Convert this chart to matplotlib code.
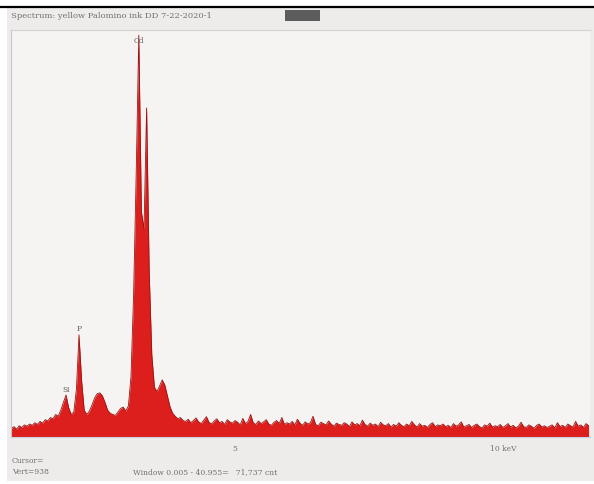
import numpy as np
import matplotlib
matplotlib.use("Agg")
import matplotlib.pyplot as plt
from matplotlib.patches import Rectangle

# EDS spectrum, channels every 0.05 keV starting at 0.70 keV
start_kev = 0.70
step_kev = 0.05

# 0.70 - 4.00 keV (Si, P, S, Cd L lines, Ca)
peak_counts = [20, 24, 18, 26, 22, 28, 25, 30, 27, 33,
               29, 36, 32, 40, 37, 45, 42, 52, 48, 62,
               80, 97, 68, 52, 58, 110, 236, 130, 62, 52,
               60, 74, 90, 100, 102, 95, 80, 62, 55, 52,
               50, 58, 66, 69, 60, 72, 140, 330, 610, 928,
               520, 480, 760, 380, 190, 115, 105, 118, 132, 120,
               95, 70, 55, 48, 42, 45, 38]

# 4.05 - 11.80 keV background
tail_counts = [36, 41, 33, 38, 44, 35, 31, 39, 47, 34, 30, 37, 42, 33, 36, 29, 40, 35, 32, 38,
               34, 28, 43, 31, 36, 52, 33, 29, 37, 31, 35, 40, 30, 27, 34, 38, 31, 45, 29, 33,
               30, 36, 28, 41, 32, 27, 35, 30, 33, 48, 29, 26, 34, 31, 28, 37, 30, 25, 32, 29,
               27, 33, 30, 24, 35, 28, 31, 26, 39, 29, 25, 32, 27, 30, 24, 34, 28, 26, 31, 23,
               29, 25, 33, 27, 24, 30, 26, 36, 28, 23, 31, 25, 27, 22, 29, 33, 24, 28, 26, 30,
               24, 27, 22, 31, 25, 28, 35, 23, 26, 29, 22, 27, 30, 24, 21, 28, 25, 32, 23, 26,
               24, 29, 22, 26, 31, 23, 27, 21, 25, 34, 24, 22, 28, 25, 20, 27, 30, 23, 26, 22,
               25, 28, 21, 33, 24, 27, 22, 30, 26, 23, 36, 25, 28, 22, 31, 26]

peak_labels = ["Si", "P", "Cd"]
peak_label_kev = [1.75, 2.00, 3.15]
peak_label_cnt = [100, 240, 905]

tick_kev = [5, 10]
tick_text = ["5", "10 keV"]

title = "Spectrum: yellow Palomino ink DD 7-22-2020-1"
footer_left = ["Cursor=", "Vert=938"]
footer_window = "Window 0.005 - 40.955=   71,737 cnt"

counts = np.array(peak_counts + tail_counts, dtype=float)
energy = np.round(start_kev + step_kev * np.arange(len(counts)), 3)

W, H = 594, 484
fig = plt.figure(figsize=(W / 100, H / 100), dpi=100)
fig.patch.set_facecolor("white")


def fx(px):
    return px / W


def fy(py):
    return 1 - py / H


# software panel + top rule
fig.add_artist(Rectangle((fx(7), fy(481)), fx(587), (473) / H, transform=fig.transFigure,
                         facecolor="#eeecea", edgecolor="none", zorder=0))
fig.add_artist(plt.Line2D([0, 1], [fy(6.5), fy(6.5)], transform=fig.transFigure,
                          color="black", lw=1.6))
fig.add_artist(Rectangle((fx(285), fy(21)), fx(35), 11 / H, transform=fig.transFigure,
                         facecolor="#5c5c5c", edgecolor="none"))
fig.text(fx(11), fy(16), title, fontsize=6, color="#707070", va="center", ha="left",
         family="DejaVu Serif")

# spectrum axes
ax = fig.add_axes([fx(11), fy(437), fx(590 - 11), (437 - 30) / H])
ax.set_facecolor("#f6f4f2")
ax.fill_between(energy, counts, color="#dc1f1c", lw=0)
ax.plot(energy, counts, color="#9a1515", lw=0.6)
ax.set_xlim((11 + 25) / 52, (590 + 25) / 52)
ax.set_ylim(0, 940)
ax.set_xticks([])
ax.set_yticks([])
ax.spines["right"].set_visible(False)
ax.spines["top"].set_color("#d4d2d0")
ax.spines["left"].set_color("#c8c6c4")
ax.spines["bottom"].set_color("#c8d0e0")

for lab, xk, yc in zip(peak_labels, peak_label_kev, peak_label_cnt):
    ax.text(xk, yc, lab, fontsize=5.5, color="#606060", ha="center", va="bottom",
            family="DejaVu Serif")

for xk, t in zip(tick_kev, tick_text):
    ax.text(xk if t == "5" else xk - 0.1, -28, t, fontsize=5.5, color="#707070",
            ha="center" if t == "5" else "left", va="center", family="DejaVu Serif",
            clip_on=False)

fig.text(fx(12), fy(461), footer_left[0], fontsize=5.5, color="#707070", va="center",
         family="DejaVu Serif")
fig.text(fx(12), fy(472), footer_left[1], fontsize=5.5, color="#707070", va="center",
         family="DejaVu Serif")
fig.text(fx(133), fy(472), footer_window, fontsize=5.5, color="#707070", va="center",
         family="DejaVu Serif")

fig.savefig("out.png", dpi=100)
